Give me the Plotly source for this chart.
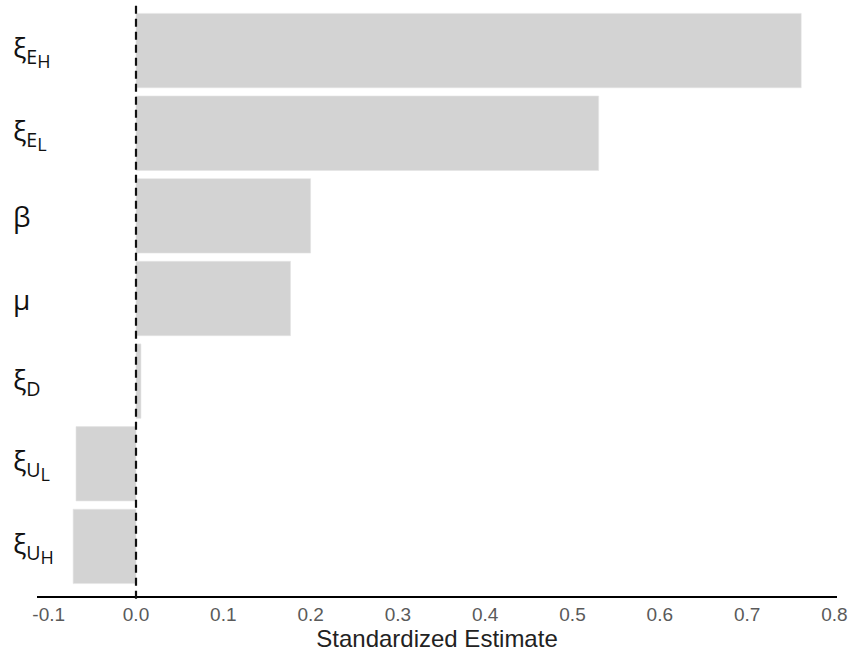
import plotly.graph_objects as go

# Data (top to bottom as shown)
params = ["ξ<sub>E<sub><span style='font-size:18px'>H</span></sub></sub>",
          "ξ<sub>E<sub><span style='font-size:18px'>L</span></sub></sub>",
          "β", "μ",
          "ξ<sub>D</sub>",
          "ξ<sub>U<sub><span style='font-size:18px'>L</span></sub></sub>",
          "ξ<sub>U<sub><span style='font-size:18px'>H</span></sub></sub>"]
keys = ["xiEH", "xiEL", "beta", "mu", "xiD", "xiUL", "xiUH"]
estimates = [0.762, 0.530, 0.200, 0.177, 0.0057, -0.0687, -0.072]
x_ticks = [-0.1, 0.0, 0.1, 0.2, 0.3, 0.4, 0.5, 0.6, 0.7, 0.8]
x_title = "Standardized Estimate"

fig = go.Figure()
fig.add_trace(go.Bar(
    x=estimates, y=keys, orientation="h",
    marker=dict(color="#D3D3D3", line=dict(width=0.6, color="#E4E4E4")),
    width=0.9, showlegend=False,
))

fig.add_shape(type="line", x0=0, x1=0, xref="x", y0=0.992, y1=-0.005, yref="paper",
              line=dict(color="#111111", width=2.2, dash="8px,5px"))

for k, lab in zip(keys, params):
    fig.add_annotation(x=0, xref="paper", xshift=-26, y=k, yref="y",
                       text=lab, showarrow=False, xanchor="left",
                       font=dict(family="Open Sans", size=28, color="#111111"))

fig.update_layout(
    width=853, height=658,
    margin=dict(l=37, r=16, t=1, b=62),
    plot_bgcolor="white", paper_bgcolor="white",
    bargap=0.1,
    xaxis=dict(range=[-0.1134, 0.803], tickvals=x_ticks,
               ticktext=[f"{v:.1f}" for v in x_ticks],
               showgrid=False, zeroline=False,
               showline=True, linecolor="black", linewidth=2,
               ticks="", ticklen=0,
               tickfont=dict(family="Liberation Sans", size=19, color="#5a5a5a"),
               title=dict(text=x_title, standoff=4,
                          font=dict(family="Liberation Sans", size=24, color="#222222"))),
    yaxis=dict(categoryorder="array", categoryarray=keys[::-1],
               range=[-0.6, 6.6], showticklabels=False, showgrid=False,
               zeroline=False, showline=False, ticks=""),
)

fig.write_html("out.html")
